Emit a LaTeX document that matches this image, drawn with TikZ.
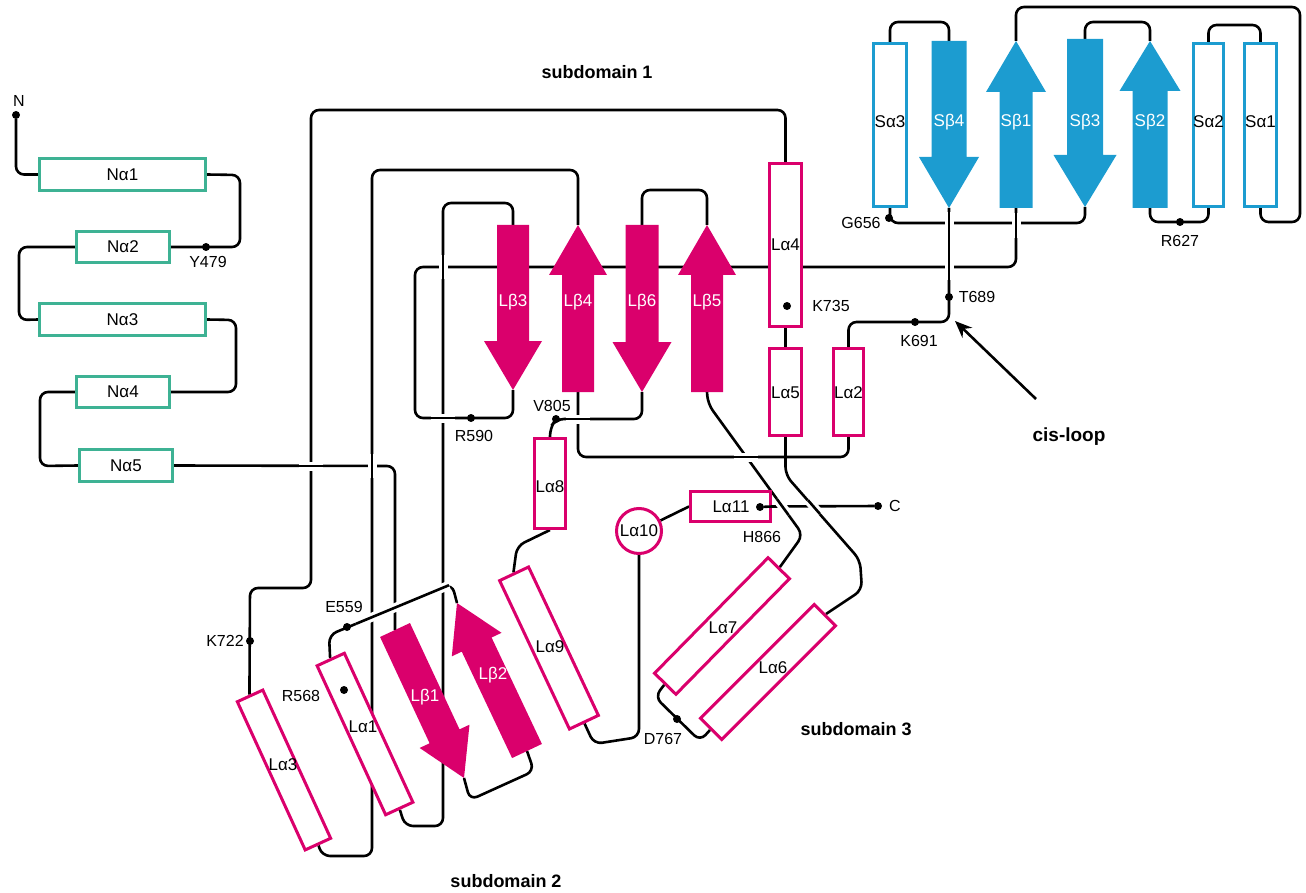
\documentclass[tikz,border=0pt]{standalone}
\usepackage{fontspec}
\setmainfont{Liberation Sans}
\usetikzlibrary{calc,arrows.meta}
\pgfdeclarelayer{bg}
\pgfsetlayers{bg,main}
\definecolor{lmag}{RGB}{218,0,108}
\definecolor{sblue}{RGB}{28,156,208}
\definecolor{ngreen}{RGB}{62,178,148}
% #1 name, #2 colour, #3 tail, #4 tip, #5 half body width, #6 half head width, #7 head length
\newcommand\bstrand[7]{%
  \coordinate (#1-t) at (#3);
  \coordinate (#1-h) at (#4);
  \coordinate (#1-b) at ($(#1-h)!#7!(#1-t)$);
  \fill[#2] ($(#1-t)!#5!90:(#1-h)$) -- ($(#1-b)!#5!90:(#1-h)$) -- ($(#1-b)!#6!90:(#1-h)$)
    -- (#1-h) -- ($(#1-b)!#6!-90:(#1-h)$) -- ($(#1-b)!#5!-90:(#1-h)$) -- ($(#1-t)!#5!-90:(#1-h)$) -- cycle;
}
\begin{document}
\begin{tikzpicture}[x=1pt,y=-1pt,
  conn/.style={draw=black,line width=2.6pt,rounded corners=8pt},
  bridge/.style={conn,rounded corners=0pt,preaction={draw=white,line width=9pt}},
  hx/.style={draw,line width=3pt,fill=white,inner sep=0pt,rectangle},
  nh/.style={hx,draw=ngreen},
  lh/.style={hx,draw=lmag},
  sh/.style={hx,draw=sblue},
  resdot/.style={circle,fill=black,inner sep=0pt,minimum size=8pt},
  lab/.style={font=\fontsize{17}{20}\selectfont,inner sep=0pt},
  wlab/.style={lab,text=white},
  res/.style={font=\fontsize{16}{19}\selectfont,inner sep=0pt},
  subd/.style={font=\bfseries\fontsize{18}{21}\selectfont,inner sep=0pt},
]
\useasboundingbox (0,0) rectangle (1306,893);

% ---------- N domain helices
\node[nh,minimum width=166pt,minimum height=32pt] (Na1) at (122.5,174.5) {};
\node[nh,minimum width=93pt,minimum height=31pt] (Na2) at (123,247) {};
\node[nh,minimum width=166pt,minimum height=32pt] (Na3) at (122.5,319.5) {};
\node[nh,minimum width=93pt,minimum height=31pt] (Na4) at (123,392) {};
\node[nh,minimum width=93pt,minimum height=32pt] (Na5) at (126,465.5) {};
\node[lab] (tNa1) at (Na1) {Nα1};
\node[lab] (tNa2) at (Na2) {Nα2};
\node[lab] (tNa3) at (Na3) {Nα3};
\node[lab] (tNa4) at (Na4) {Nα4};
\node[lab] (tNa5) at (Na5) {Nα5};

% ---------- L domain helices
\node[lh,minimum width=32pt,minimum height=163pt] (La4) at (785.5,245) {};
\node[lh,minimum width=32pt,minimum height=87pt] (La5) at (785.5,392) {};
\node[lh,minimum width=30pt,minimum height=87pt] (La2) at (848.5,392) {};
\node[lh,minimum width=31pt,minimum height=90pt] (La8) at (550,483.5) {};
\node[lh,minimum width=164pt,minimum height=30pt,rotate=-65.3] (La1) at (365,734) {};
\node[lh,minimum width=163pt,minimum height=28pt,rotate=-65.4] (La3) at (284,770) {};
\node[lh,minimum width=164pt,minimum height=32pt,rotate=-64.8] (La9) at (549,648) {};
\node[lh,minimum width=162pt,minimum height=30pt,rotate=45.5] (La7) at (722,626) {};
\node[lh,minimum width=161pt,minimum height=30pt,rotate=45] (La6) at (768,672) {};
\node[lh,circle,minimum size=45pt] (La10) at (639,531) {};
\node[lh,minimum width=80pt,minimum height=30pt] (La11) at (730.5,506.5) {};

% ---------- S domain helices
\node[sh,minimum width=33pt,minimum height=163pt] (Sa3) at (890,125) {};
\node[sh,minimum width=30pt,minimum height=163pt] (Sa2) at (1208.5,125) {};
\node[sh,minimum width=32pt,minimum height=163pt] (Sa1) at (1260.5,125) {};

% ---------- strands
\bstrand{Lb3}{lmag}{513,225}{513,390}{16pt}{29pt}{49pt}
\bstrand{Lb4}{lmag}{578,392}{578,225}{16pt}{29pt}{50pt}
\bstrand{Lb6}{lmag}{642,225}{642,392}{16.5pt}{29.5pt}{50pt}
\bstrand{Lb5}{lmag}{707,392}{707,225}{16pt}{29pt}{50pt}
\bstrand{Lb1}{lmag}{395,630}{464,778}{16.5pt}{27.5pt}{46pt}
\bstrand{Lb2}{lmag}{527,751}{457,603}{16.5pt}{27.5pt}{46pt}
\bstrand{Sb4}{sblue}{949,41}{949,208}{17.5pt}{30pt}{51pt}
\bstrand{Sb1}{sblue}{1016,208}{1016,41}{16.5pt}{30pt}{51pt}
\bstrand{Sb3}{sblue}{1085,39}{1085,207}{18pt}{31.5pt}{52pt}
\bstrand{Sb2}{sblue}{1150,208}{1150,41}{17.5pt}{30.5pt}{50pt}

% ---------- terminal dots
\node[resdot] (Nt) at (16,115) {};
\node[resdot] (Cdot) at (878,506) {};
\node[resdot] (dH866) at (760,507) {};

% ---------- connectors (behind)
\begin{pgfonlayer}{bg}
\draw[conn] (Nt) |- (Na1.west);
\draw[conn] (Na1.east) -- (240,175) -- (240,247) -- (Na2.east);
\draw[conn] (Na2.west) -- (19,247) -- (19,320) -- (Na3.west);
\draw[conn] (Na3.east) -- (236,320) -- (236,392) -- (Na4.east);
\draw[conn] (Na4.west) -- (40,392) -- (40,466) -- (Na5.west);
\draw[conn] (Na5.east) -- (395,466) -- (Lb1-t);
\draw[conn] (Lb1-h) -- (470,800) -- (534,771) -- (Lb2-t);
\draw[conn] (Lb2-h) -- (452,584) -- (329,635) -- (La1.west);
\draw[conn] (La1.east) -- (405,826) -- (443,826) -- (443,203) -- (513,203) -- (Lb3-t);
\draw[conn] (Lb3-h) -- (513,418) -- (415,418) -- (415,267) -- (1016,267) -- (Sb1-t);
\draw[conn] (Sb1-h) -- (1016,7) -- (1300,7) -- (1300,222) -- (1260.5,222) -- (Sa1.south);
\draw[conn] (Sa1.north) -- (1260.5,25) -- (1208.5,25) -- (Sa2.north);
\draw[conn] (Sa2.south) -- (1208.5,222) -- (1150,222) -- (Sb2-t);
\draw[conn] (Sb2-h) -- (1150,22) -- (1085,22) -- (Sb3-t);
\draw[conn] (Sb3-h) -- (1085,223) -- (890,223) -- (Sa3.south);
\draw[conn] (Sa3.north) -- (890,22) -- (949,22) -- (Sb4-t);
\draw[conn] (Sb4-h) -- (949,322) -- (848.5,322) -- (La2.north);
\draw[conn] (La2.south) -- (848.5,457) -- (578,457) -- (Lb4-t);
\draw[conn] (Lb4-h) -- (578,170) -- (372,170) -- (372,856) -- (322,856) -- (La3.east);
\draw[conn] (La3.west) -- (250,588) -- (311,588) -- (311,110) -- (785.5,110) -- (La4.north);
\draw[conn] (La4.south) -- (La5.north);
\draw[conn] (La5.south) -- (785.5,475) -- (860,560) -- (862,590) -- (La6.east);
\draw[conn] (La6.west) -- (700,741) -- (655,697) -- (La7.west);
\draw[conn] (La7.east) -- (803,535) -- (708,404) -- (Lb5-t);
\draw[conn] (Lb5-h) -- (707,190) -- (642,190) -- (Lb6-t);
\draw[conn] (Lb6-h) -- (642,419) -- (556,419) -- (550,428) -- (La8.north);
\draw[conn] (La8.south) -- (517,546) -- (La9.west);
\draw[conn] (La9.east) -- (594,744) -- (639,737) -- (La10.south);
\draw[conn] (La10) -- (La11.west);
\draw[conn] (La11.east) -- (Cdot);
% crossings: the upper line is redrawn with a white gap
\draw[bridge] (443,255) -- (443,279);
\draw[bridge] (431,418) -- (455,418);
\draw[bridge] (299,466) -- (323,466);
\draw[bridge] (372,454) -- (372,478);
\draw[bridge] (449,585.2) -- (356,623.8);
\draw[bridge] (949,212) -- (949,280);
\draw[bridge] (1016,213) -- (1016,238);
\draw[bridge] (734,457) -- (758,457);
\draw[bridge] (566,419) -- (590,419);
\draw[bridge] (776.8,498.9) -- (788.6,515.1);
\draw[bridge] (808,500.2) -- (819.8,513.8);
\end{pgfonlayer}

\draw[conn] (dH866) -- (La11.east);

% ---------- helix labels
\node[lab] (tLa1) at (363,727) {Lα1};
\node[lab] (tLa2) at (848.5,393) {Lα2};
\node[lab] (tLa3) at (283,765) {Lα3};
\node[lab] (tLa4) at (785.5,245) {Lα4};
\node[lab] (tLa5) at (785.5,393) {Lα5};
\node[lab] (tLa6) at (773,668) {Lα6};
\node[lab] (tLa7) at (723,628) {Lα7};
\node[lab] (tLa8) at (550,487) {Lα8};
\node[lab] (tLa9) at (550,647) {Lα9};
\node[lab] (tLa10) at (La10) {Lα10};
\node[lab] (tLa11) at (731,507) {Lα11};
\node[lab] (tSa1) at (1260.5,122) {Sα1};
\node[lab] (tSa2) at (1208.5,122) {Sα2};
\node[lab] (tSa3) at (890,122) {Sα3};

% ---------- strand labels
\node[wlab] (tLb1) at (425,697) {Lβ1};
\node[wlab] (tLb2) at (493,675) {Lβ2};
\node[wlab] (tLb3) at (513,302) {Lβ3};
\node[wlab] (tLb4) at (578,302) {Lβ4};
\node[wlab] (tLb5) at (707,302) {Lβ5};
\node[wlab] (tLb6) at (642,302) {Lβ6};
\node[wlab] (tSb1) at (1016,122) {Sβ1};
\node[wlab] (tSb2) at (1150,122) {Sβ2};
\node[wlab] (tSb3) at (1085,122) {Sβ3};
\node[wlab] (tSb4) at (949,122) {Sβ4};

% ---------- residue markers
\node[resdot] (dY479) at (206,247) {};
\node[resdot] (dE559) at (347,627) {};
\node[resdot] (dR568) at (344,690) {};
\node[resdot] (dK722) at (250,641) {};
\node[resdot] (dR590) at (471,418) {};
\node[resdot] (dV805) at (556,419) {};
\node[resdot] (dK735) at (787,306) {};
\node[resdot] (dK691) at (915,322) {};
\node[resdot] (dT689) at (949,297) {};
\node[resdot] (dG656) at (889,218) {};
\node[resdot] (dR627) at (1180,222) {};
\node[resdot] (dD767) at (677,719) {};

\node[res] (tN) at (19,101) {N};
\node[res] (tC) at (895,506) {C};
\node[res] (tY479) at (208,262) {Y479};
\node[res] (tE559) at (344,607) {E559};
\node[res] (tR568) at (301,696) {R568};
\node[res] (tK722) at (225,641) {K722};
\node[res] (tR590) at (474,436) {R590};
\node[res] (tV805) at (552,406) {V805};
\node[res] (tK735) at (831,306) {K735};
\node[res] (tK691) at (919,341) {K691};
\node[res] (tT689) at (977,297) {T689};
\node[res] (tG656) at (861,223) {G656};
\node[res] (tR627) at (1180,241) {R627};
\node[res] (tD767) at (663,739) {D767};
\node[res] (tH866) at (762,537) {H866};

% ---------- titles and cis-loop pointer
\node[subd] (sd1) at (597,72) {subdomain 1};
\node[subd] (sd2) at (506,881) {subdomain 2};
\node[subd] (sd3) at (856,729) {subdomain 3};
\node[subd,font=\bfseries\fontsize{19}{22}\selectfont] (cis) at (1069,437) {cis-loop};
\coordinate (cisT) at (1036,399);
\coordinate (cisH) at (955,321);
\draw[line width=2.6pt,-{Stealth[length=17pt,width=14pt]}] (cisT) -- (cisH);
\end{tikzpicture}
\end{document}
